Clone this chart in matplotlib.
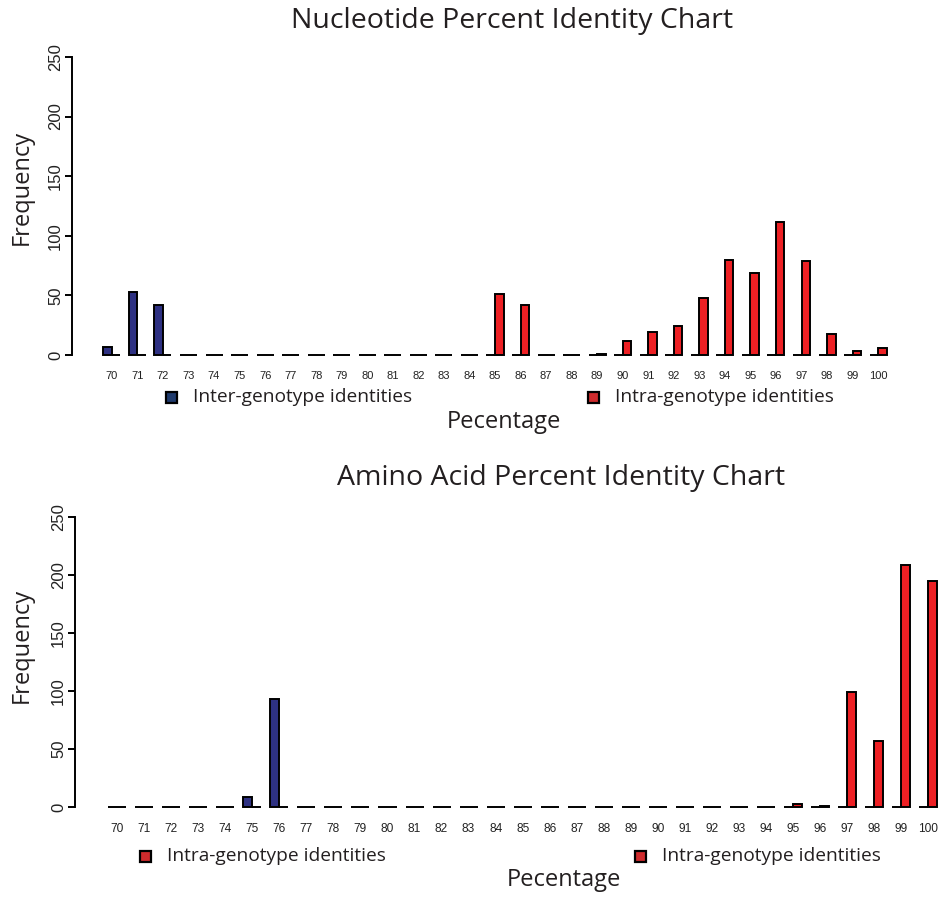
import matplotlib
matplotlib.use("Agg")
import matplotlib.pyplot as plt
import numpy as np

percent = list(range(70, 101))

# Nucleotide chart
nt_inter = [7, 53, 42] + [0] * 28
nt_intra = [0] * 15 + [51, 42, 0, 0, 1, 12, 19, 24, 48, 80, 69, 112, 79, 18, 3, 6]

# Amino acid chart
aa_inter = [0, 0, 0, 0, 0, 9, 93] + [0] * 24
aa_intra = [0] * 25 + [3, 1, 99, 57, 208, 195]

yticks = [0, 50, 100, 150, 200, 250]

BLUE = "#2e3182"
RED = "#ed2024"
LEG_BLUE = "#1f3a6c"
LEG_RED = "#cf2b2d"
TXT = "#231f20"
TITLE_FONT = ["Open Sans", "DejaVu Sans"]
TICK_FONT = ["Liberation Sans", "DejaVu Sans"]

W, H = 945, 899
fig = plt.figure(figsize=(W / 100, H / 100), dpi=100)


def px_ax(x0, x1, ytop, ybot):
    return fig.add_axes([x0 / W, 1 - ybot / H, (x1 - x0) / W, (ybot - ytop) / H])


def draw(ax, inter, intra, xlim, tick_fs, xpad):
    n = len(percent)
    idx = np.arange(n)
    left = 3 * idx + 1.5
    right = 3 * idx + 2.5
    ax.bar(left, inter, width=1.0, color=BLUE, edgecolor="black", linewidth=1.4)
    ax.bar(right, intra, width=1.0, color=RED, edgecolor="black", linewidth=1.4)
    ax.set_xlim(*xlim)
    ax.set_ylim(-10, 260)
    for s in ["top", "right", "bottom"]:
        ax.spines[s].set_visible(False)
    ax.spines["left"].set_bounds(0, 250)
    ax.spines["left"].set_linewidth(1.4)
    ax.set_yticks(yticks)
    ax.set_yticklabels([str(t) for t in yticks], rotation=90, va="center",
                       fontsize=12, family=TICK_FONT, color="#222222")
    ax.tick_params(axis="y", length=5, width=1.4, pad=1.5)
    ax.set_xticks(3 * idx + 2)
    ax.set_xticklabels([str(p) for p in percent], fontsize=tick_fs,
                       family=TICK_FONT, color="#222222")
    ax.tick_params(axis="x", length=0, pad=xpad)


ax1 = px_ax(72, 918, 45, 367)
draw(ax1, nt_inter, nt_intra, (-2.68, 96.68), 8, 3)
ax2 = px_ax(75, 945, 505, 819)
draw(ax2, aa_inter, aa_intra, (-2.68, 93.87), 8.6, 3)

def t(x, y, s, fs, **kw):
    fig.text(x / W, 1 - y / H, s, fontsize=fs, color=TXT, family=TITLE_FONT, **kw)

t(512, 21, "Nucleotide Percent Identity Chart", 20.5, ha="center", va="center")
t(561, 478, "Amino Acid Percent Identity Chart", 20.5, ha="center", va="center")
t(22, 187, "Frequency", 17, ha="center", va="center", rotation=90)
t(22, 645, "Frequency", 17, ha="center", va="center", rotation=90)
t(504, 422, "Pecentage", 17, ha="center", va="center")
t(564, 880, "Pecentage", 17, ha="center", va="center")

def legend_item(xsq, y, color, label):
    fig.patches.append(plt.Rectangle(((xsq) / W, 1 - (y + 5.5) / H), 11 / W, 11 / H,
                                     facecolor=color, edgecolor="black", linewidth=1.6,
                                     transform=fig.transFigure))
    t(xsq + 27, y, label, 13.8, ha="left", va="center")

legend_item(166, 397, LEG_BLUE, "Inter-genotype identities")
legend_item(588, 397, LEG_RED, "Intra-genotype identities")
legend_item(140, 856, LEG_RED, "Intra-genotype identities")
legend_item(635, 856, LEG_RED, "Intra-genotype identities")

fig.savefig("out.png", dpi=100)
